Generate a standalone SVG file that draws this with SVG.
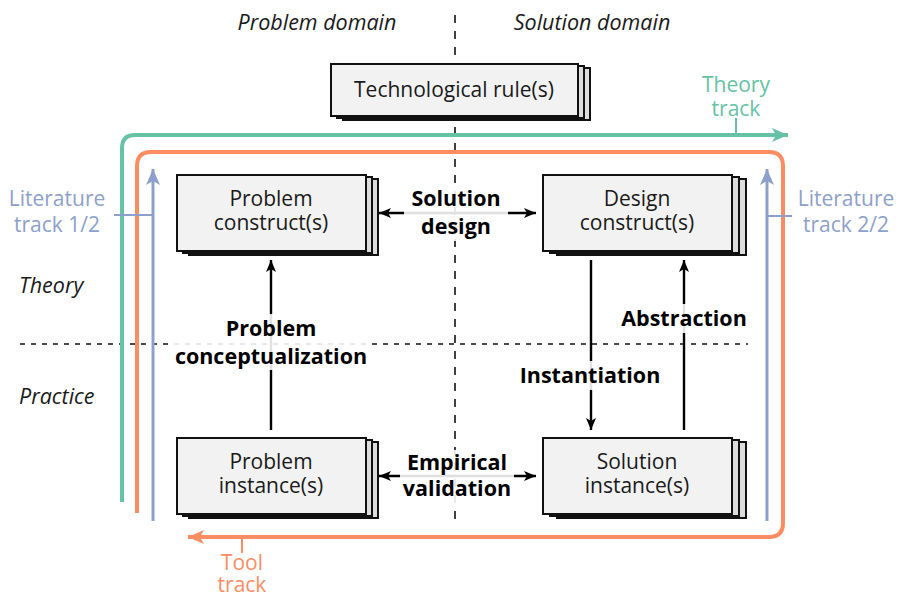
<svg xmlns="http://www.w3.org/2000/svg" width="898" height="595" viewBox="0 0 898 595">
  <style>
    text { font-family: "Open Sans", "Liberation Sans", sans-serif; font-size: 21px; fill: #1a1a1a; }
    .it { font-style: italic; font-size: 21.5px; }
    .b { font-weight: bold; fill: #000; font-size: 21.5px; }
    .mid { text-anchor: middle; }
    .front { fill: #f2f2f2; stroke: #111; stroke-width: 2; }
    .back { fill: #dcdcdc; stroke: #111; stroke-width: 2; }
    .dash { stroke: #111; stroke-width: 1.6; fill: none; }
    .arrow { stroke: #000; stroke-width: 2.4; fill: none; }
    .halo { fill: #fff; fill-opacity: 0.88; }
    .green { stroke: #66c2a5; }
    .orange { stroke: #fc8d62; }
    .blue { stroke: #8da0cb; }
  </style>
  <defs>
    <marker id="ah" viewBox="0 0 12 10" refX="12" refY="5" markerWidth="12" markerHeight="10" markerUnits="userSpaceOnUse" orient="auto-start-reverse">
      <path d="M0,0 L12,5 L0,10 L3,5 z" fill="#000"/>
    </marker>
    <marker id="ahGreen" viewBox="0 0 16 14" refX="16" refY="7" markerWidth="16" markerHeight="14" markerUnits="userSpaceOnUse" orient="auto">
      <path d="M0,0 L16,7 L0,14 L4,7 z" fill="#66c2a5"/>
    </marker>
    <marker id="ahOrange" viewBox="0 0 16 14" refX="16" refY="7" markerWidth="16" markerHeight="14" markerUnits="userSpaceOnUse" orient="auto">
      <path d="M0,0 L16,7 L0,14 L4,7 z" fill="#fc8d62"/>
    </marker>
    <marker id="ahBlue" viewBox="0 0 16 14" refX="16" refY="7" markerWidth="16" markerHeight="14" markerUnits="userSpaceOnUse" orient="auto">
      <path d="M0,0 L16,7 L0,14 L4,7 z" fill="#8da0cb"/>
    </marker>
  </defs>

  <rect width="898" height="595" fill="#fff"/>

  <!-- quadrant separators -->
  <g id="separators">
    <line class="dash" x1="455" y1="15" x2="455" y2="520" stroke-dasharray="8,8"/>
    <line class="dash" x1="20" y1="344" x2="748" y2="344" stroke-dasharray="5,6"/>
  </g>

  <!-- axis captions -->
  <g id="captions">
    <text class="it mid" x="317" y="30">Problem domain</text>
    <text class="it mid" x="592" y="30">Solution domain</text>
    <text class="it" x="19" y="293">Theory</text>
    <text class="it" x="19" y="404">Practice</text>
  </g>

  <!-- research tracks -->
  <g id="tracks" fill="none">
    <path class="green" stroke-width="4" d="M122,502 V148 Q122,135 135,135 H788" marker-end="url(#ahGreen)"/>
    <line class="green" stroke-width="2" x1="736" y1="118" x2="736" y2="135"/>
    <path class="orange" stroke-width="4" d="M137,513 V166 Q137,152 151,152 H769 Q783,152 783,166 V523 Q783,537 769,537 H188" marker-end="url(#ahOrange)"/>
    <line class="orange" stroke-width="2" x1="242" y1="537" x2="242" y2="553"/>
    <line class="blue" stroke-width="3" x1="153" y1="521" x2="153" y2="169" marker-end="url(#ahBlue)"/>
    <line class="blue" stroke-width="2" x1="114" y1="215" x2="153" y2="215"/>
    <line class="blue" stroke-width="3" x1="767" y1="521" x2="767" y2="169" marker-end="url(#ahBlue)"/>
    <line class="blue" stroke-width="2" x1="767" y1="216" x2="792" y2="216"/>
    <text class="mid" x="736" y="92" style="fill:#66c2a5">Theory</text>
    <text class="mid" x="736" y="116" style="fill:#66c2a5">track</text>
    <text class="mid" x="242" y="570" style="fill:#fc8d62">Tool</text>
    <text class="mid" x="242" y="592" style="fill:#fc8d62">track</text>
    <text class="mid" x="57" y="206" style="fill:#8da0cb">Literature</text>
    <text class="mid" x="57" y="232" style="fill:#8da0cb">track 1/2</text>
    <text class="mid" x="846" y="206" style="fill:#8da0cb">Literature</text>
    <text class="mid" x="846" y="232" style="fill:#8da0cb">track 2/2</text>
  </g>

  <!-- nodes: stacked cards -->
  <g id="technological-rules">
    <rect class="back" x="343" y="68" width="247" height="52"/>
    <rect class="back" x="337" y="66" width="247" height="52"/>
    <rect class="front" x="331" y="64" width="247" height="52"/>
    <text class="mid" x="454" y="97">Technological rule(s)</text>
  </g>

  <g id="problem-constructs">
    <rect class="back" x="189" y="179" width="189" height="76"/>
    <rect class="back" x="183" y="177" width="189" height="76"/>
    <rect class="front" x="177" y="175" width="189" height="76"/>
    <text class="mid" x="271" y="206">Problem</text>
    <text class="mid" x="271" y="230">construct(s)</text>
  </g>

  <g id="design-constructs">
    <rect class="back" x="557" y="179" width="189" height="76"/>
    <rect class="back" x="550" y="177" width="189" height="76"/>
    <rect class="front" x="543" y="175" width="189" height="76"/>
    <text class="mid" x="637" y="206">Design</text>
    <text class="mid" x="637" y="230">construct(s)</text>
  </g>

  <g id="problem-instances">
    <rect class="back" x="189" y="442" width="189" height="76"/>
    <rect class="back" x="183" y="440" width="189" height="76"/>
    <rect class="front" x="177" y="438" width="189" height="76"/>
    <text class="mid" x="271" y="469">Problem</text>
    <text class="mid" x="271" y="493">instance(s)</text>
  </g>

  <g id="solution-instances">
    <rect class="back" x="557" y="442" width="189" height="76"/>
    <rect class="back" x="550" y="440" width="189" height="76"/>
    <rect class="front" x="543" y="438" width="189" height="76"/>
    <text class="mid" x="637" y="469">Solution</text>
    <text class="mid" x="637" y="493">instance(s)</text>
  </g>

  <!-- connectors between the cards -->
  <g id="connectors">
    <line class="arrow" x1="379" y1="213" x2="536" y2="213" marker-start="url(#ah)" marker-end="url(#ah)"/>
    <line class="arrow" x1="379" y1="476" x2="536" y2="476" marker-start="url(#ah)" marker-end="url(#ah)"/>
    <line class="arrow" x1="271" y1="430" x2="271" y2="260" marker-end="url(#ah)"/>
    <line class="arrow" x1="591" y1="260" x2="591" y2="430" marker-end="url(#ah)"/>
    <line class="arrow" x1="684" y1="430" x2="684" y2="260" marker-end="url(#ah)"/>
  </g>

  <!-- connector labels -->
  <g id="connector-labels">
    <rect class="halo" x="404" y="185" width="104" height="56"/>
    <text class="b mid" x="456" y="206">Solution</text>
    <text class="b mid" x="456" y="234">design</text>

    <rect class="halo" x="170" y="314" width="202" height="56"/>
    <text class="b mid" x="271" y="336">Problem</text>
    <text class="b mid" x="271" y="364">conceptualization</text>

    <rect class="halo" x="617" y="304" width="134" height="29"/>
    <text class="b mid" x="684" y="326">Abstraction</text>

    <rect class="halo" x="516" y="361" width="149" height="29"/>
    <text class="b mid" x="590" y="383">Instantiation</text>

    <rect class="halo" x="400" y="450" width="114" height="53"/>
    <text class="b mid" x="457" y="470">Empirical</text>
    <text class="b mid" x="457" y="496">validation</text>
  </g>
</svg>
